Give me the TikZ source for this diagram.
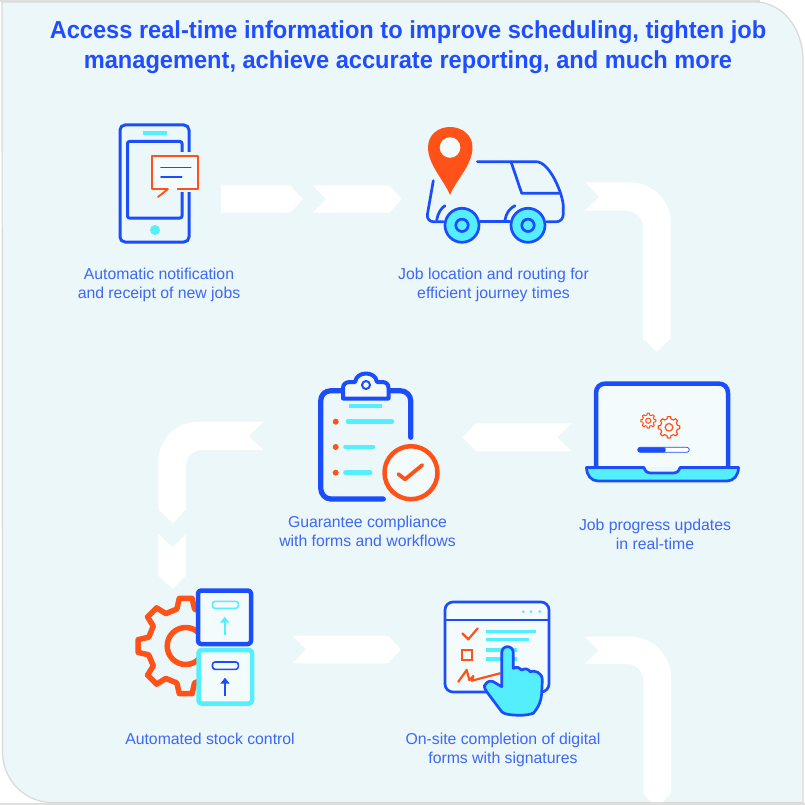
\documentclass[tikz,border=0pt]{standalone}
\usepackage{fontspec}
\setmainfont{Liberation Sans}
\newfontfamily\titlefont[FakeStretch=0.96]{Liberation Sans}
\usetikzlibrary{arrows.meta}
\definecolor{bgpanel}{HTML}{ECF7F9}
\definecolor{pale}{HTML}{F3FBFC}
\definecolor{blueline}{HTML}{1B4DFB}
\definecolor{bluetext}{HTML}{3D67F5}
\definecolor{titleblue}{HTML}{1F4DFF}
\definecolor{cyanfill}{HTML}{55EEFC}
\definecolor{orangeline}{HTML}{FF5219}
\tikzset{
  blockarrow/.style={fill=white,draw=none},
  label/.style={font=\fontsize{15.8}{19}\selectfont,text=bluetext,align=center,inner sep=0pt},
  titletext/.style={font=\titlefont\fontsize{24.6}{30}\selectfont\bfseries,text=titleblue,align=center,inner sep=0pt},
  blue/.style={draw=blueline,line width=#1,line cap=round,line join=round},
  blue/.default=2.7,
  org/.style={draw=orangeline,line width=#1,line cap=round,line join=round},
  org/.default=2,
  cy/.style={draw=cyanfill,line width=#1,line cap=round,line join=round},
  cy/.default=3.5
}
\newcommand{\gearshape}[6]{% cx cy ri ro teeth style
  \begin{scope}[shift={(#1,#2)}]
    \pgfmathsetmacro{\gearda}{360/#5}
    \draw[#6] (-0.3*\gearda:#3)
      \foreach \gk in {1,...,#5}{
        -- ({(\gk-1)*\gearda-0.17*\gearda}:#4)
        -- ({(\gk-1)*\gearda+0.17*\gearda}:#4)
        -- ({(\gk-1)*\gearda+0.3*\gearda}:#3)
        -- ({\gk*\gearda-0.3*\gearda}:#3)
      } -- cycle;
  \end{scope}}
\begin{document}
\begin{tikzpicture}[x=1pt,y=-1pt]
\useasboundingbox (0,0) rectangle (805,805);
\fill[white] (0,0) rectangle (805,805);
\fill[gray!25] (0,0) rectangle (760,2);
\fill[gray!25] (0,803) rectangle (805,805);
% panel
\draw[fill=bgpanel,draw=gray!30,line width=1.2] (2,2) -- (755,2) .. controls (782,2) and (803,28) .. (803,60) -- (803,802.5) -- (52,802.5) .. controls (25,802.5) and (2.5,780) .. (2.5,752) -- cycle;

% title
\node[titletext] (title) at (408,47.5) {Access real-time information to improve scheduling, tighten job\\management, achieve accurate reporting, and much more};

% block arrows
\fill[blockarrow] (221,185.3) -- (290,185.3) -- (303,199) -- (290,212.7) -- (221,212.7) -- cycle;
\fill[blockarrow] (313,185.3) -- (389,185.3) -- (402,199) -- (389,212.7) -- (313,212.7) -- (326,199) -- cycle;
\fill[blockarrow] (585,182.3) -- (630,182.3) .. controls (652,182.3) and (670.7,200) .. (670.7,222.3) -- (670.7,338.3) -- (656.7,351.7) -- (643,338.3) -- (643,226.7) .. controls (643,218) and (635,210.7) .. (626.7,210.7) -- (585,210.7) -- (599,196.7) -- cycle;
\fill[blockarrow] (571.7,423.3) -- (476,423.3) -- (462.7,437.3) -- (476,451.3) -- (571.7,451.3) -- (557.3,437.3) -- cycle;
\fill[blockarrow] (263.3,421.7) -- (198,421.7) .. controls (176,421.7) and (158.3,439.5) .. (158.3,461.7) -- (158.3,509.3) -- (172.7,523.3) -- (186,509.3) -- (186,466) .. controls (186,457) and (193,450) .. (202,450) -- (263.3,450) -- (249,436) -- cycle;
\fill[blockarrow] (158.3,534) -- (172.7,547.3) -- (186,534) -- (186,575.7) -- (172.7,589) -- (158.3,575.7) -- cycle;
\fill[blockarrow] (292.3,635.7) -- (388.3,635.7) -- (400.7,649.5) -- (388.3,663.3) -- (292.3,663.3) -- (306,649.5) -- cycle;
\fill[blockarrow] (585,636.7) -- (630,636.7) .. controls (652,636.7) and (671,654.5) .. (671,676.7) -- (671,793.3) -- (663,802) -- (651,802) -- (643.3,793.3) -- (643.3,680) .. controls (643.3,671.5) and (636,664) .. (627,664) -- (585,664) -- (598.3,650.3) -- cycle;

% phone
\draw[blue=3,rounded corners=5] (120,125) rectangle (189,242);
\draw[blue=3,rounded corners=2] (127.5,141.5) rectangle (182,218);
\fill[cyanfill] (143.3,131) rectangle (166.7,135);
\fill[cyanfill] (155,230) circle (5);
\fill[bgpanel] (150,152.5) rectangle (199.5,192);
\fill[pale] (152,156) rectangle (198,189);
\draw[org=1.8,line cap=butt] (168,189) -- (152,189) -- (152,156) -- (198,156) -- (198,189) -- (177,189);
\draw[org=1.8] (168,189) -- (158,197);
\draw[blue=1.6] (161,167.7) -- (190.7,167.7);
\draw[blue=1.6] (161,177.3) -- (181.7,177.3);
\node[label] (t1) at (159,284.5) {Automatic notification\\and receipt of new jobs};

% truck
\draw[blue] (477.3,161.7) -- (536,161.7) .. controls (550,161.7) and (563.3,195) .. (563.3,206.7) -- (563.3,214) .. controls (563.3,219) and (560,221.7) .. (556.7,221.7) -- (546.7,221.7);
\draw[blue] (480,221.7) -- (510,221.7);
\draw[blue] (433.3,180.7) -- (427.3,215) .. controls (427,219) and (430,221.7) .. (433.3,221.7) -- (443.3,221.7);
\draw[blue] (511,161.7) -- (521.7,193.3) -- (560,193.3);
\draw[blue] (436.7,220) .. controls (438,213) and (441,208) .. (445,205.7);
\draw[blue] (505,220) .. controls (506,213) and (510,208) .. (515,205.7);
\draw[blue,fill=cyanfill] (462,225.3) circle (17);
\draw[blue,fill=cyanfill] (528,225.3) circle (17);
\draw[blue] (462,225.3) circle (6.2);
\draw[blue] (528,225.3) circle (6.2);
\fill[orangeline,even odd rule] (450,195) .. controls (444,180) and (428,165) .. (428,147.3) .. controls (428,135) and (438,127) .. (450,127) .. controls (462,127) and (472.5,135) .. (472.5,147.3) .. controls (472.5,165) and (456,180) .. (450,195) -- cycle;
\fill[pale] (450,147.5) circle (10.3);
\node[label] (t2) at (493.5,284.5) {Job location and routing for\\efficient journey times};

% laptop
\draw[blue=4.5,fill=pale] (596,467) -- (596,393) .. controls (596,387) and (600,383.5) .. (606,383.5) -- (718,383.5) .. controls (724,383.5) and (728,387) .. (728,393) -- (728,467);
\draw[blue=2.7,fill=cyanfill] (586.5,467.5) -- (644,467.5) .. controls (645,471) and (647,473) .. (651,473) -- (673,473) .. controls (677,473) and (679,471) .. (680,467.5) -- (738.5,467.5) .. controls (738.5,475) and (734,481) .. (727,481) -- (598,481) .. controls (591,481) and (586.5,475) .. (586.5,467.5) -- cycle;
\gearshape{648.3}{420.7}{5.8}{7.6}{8}{org=1,fill=pale}
\draw[org=1] (648.3,420.7) circle (2.6);
\gearshape{669}{427.3}{8.6}{10.8}{8}{org=1.2,fill=pale}
\draw[org=1.2] (669,427.3) circle (3.8);
\draw[blue=.7,fill=white,rounded corners=2.5] (637.7,447.3) rectangle (689.3,452.3);
\fill[blueline,rounded corners=2] (637.7,447.3) -- (665.7,447.3) -- (665.7,452.3) -- (637.7,452.3) -- cycle;
\node[label] (t3) at (655,534) {Job progress updates\\in real-time};

% clipboard
\draw[blue=5.2] (410.7,437.3) -- (410.7,401) .. controls (410.7,395) and (406,390.7) .. (400,390.7) -- (331,390.7) .. controls (325,390.7) and (320.7,395) .. (320.7,401) -- (320.7,488) .. controls (320.7,494) and (325,499) .. (331,499) -- (383.3,499);
\draw[blue=4,fill=pale,line cap=butt] (343,398.5) -- (343,388) .. controls (343,384) and (346,382) .. (350,382) -- (355,382) .. controls (356,376) and (361,373.5) .. (366,373.5) .. controls (371,373.5) and (376,376) .. (377,382) -- (382,382) .. controls (386,382) and (388.5,384) .. (388.5,388) -- (388.5,398.5) -- cycle;
\draw[blue=2,fill=pale] (366,385) circle (4);
\draw[cy=4,line cap=butt] (349,406) -- (381.7,406);
\fill[orangeline] (335.7,421.7) circle (3);
\fill[orangeline] (335.7,447) circle (3);
\fill[orangeline] (335.7,472.7) circle (3);
\draw[cy=4.6] (348,421.7) -- (392,421.7);
\draw[cy=4.6] (345.5,447) -- (373,447);
\draw[cy=4.6] (345.5,472.7) -- (370,472.7);
\draw[org=4.5,fill=pale] (411,472.7) circle (26.5);
\draw[org=3.8] (398.3,474) -- (405,479.3) -- (422.3,465);
\node[label] (t4) at (367.5,531) {Guarantee compliance\\with forms and workflows};

% stock
\gearshape{185.7}{646}{38}{48}{8}{org=5.5}
\draw[org=5.5] (185.7,646) circle (18.5);
\fill[bgpanel] (196,640) rectangle (256,655);
\draw[draw=blueline,line width=4.5,fill=pale,rounded corners=3,line join=round] (198,590.5) rectangle (251,644);
\draw[draw=cyanfill,line width=4.5,fill=pale,rounded corners=3,line join=round] (198.5,650) rectangle (252,703.5);
\draw[cy=1.6,rounded corners=2.5] (212.5,601.3) rectangle (238.3,608.3);
\draw[draw=cyanfill,line width=2,-{Triangle[length=6,width=9]}] (224.7,635) -- (224.7,616.7);
\draw[blue=1.6,rounded corners=2.5] (212.5,662) rectangle (238.3,669.3);
\draw[draw=blueline,line width=2,-{Triangle[length=6,width=9]}] (225,696) -- (225,677.7);
\node[label] (t5) at (210,738.5) {Automated stock control};

% form
\draw[blue=2.7,fill=pale,rounded corners=8] (445,602) rectangle (549,692);
\draw[draw=blueline,line width=1.2] (445,620) -- (549,620);
\fill[cyanfill] (523.3,611.7) circle (1.5) (531,611.7) circle (1.5) (539.7,611.7) circle (1.5);
\draw[org=2.2] (462.3,633.3) -- (468.3,639.3) -- (477.7,628.3);
\draw[cy=3.4,line cap=butt] (486,631.3) -- (536,631.3);
\draw[cy=3.4,line cap=butt] (486,639.7) -- (529.3,639.7);
\draw[cy=3.4,line cap=butt] (486,650) -- (516.7,650);
\draw[cy=3.4,line cap=butt] (486,659) -- (516.7,659);
\draw[org=2.2,line join=miter] (461.7,650) rectangle (472.3,660);
\draw[org=2.2] (458.3,681.7) -- (466.7,670) -- (469.3,680) -- (473.3,676) -- (471.7,680.7) -- (500,673.3);
\draw[blue=2.7,fill=cyanfill] (501.7,653.3) .. controls (501.7,649) and (504,646.7) .. (507.5,646.7) .. controls (511,646.7) and (513.3,649) .. (513.3,653.3) -- (513.3,668.3) .. controls (517,666.5) and (520,667.5) .. (521.7,670) .. controls (525,668) and (529,669) .. (530,671.7) .. controls (534,670) and (542.3,672) .. (542.3,680) -- (541.7,693.3) .. controls (541,703) and (537,709) .. (533.3,713.3) .. controls (527,715.5) and (519,715.5) .. (513.3,715) .. controls (508,714.5) and (504,714) .. (501.7,711.7) -- (486.7,691.7) .. controls (484,688) and (484,685) .. (485,685) .. controls (487,681) and (491,680.5) .. (493.3,681.7) -- (501.7,686.7) -- cycle;
\node[label] (t6) at (503,749.5) {On-site completion of digital\\forms with signatures};
\end{tikzpicture}
\end{document}
